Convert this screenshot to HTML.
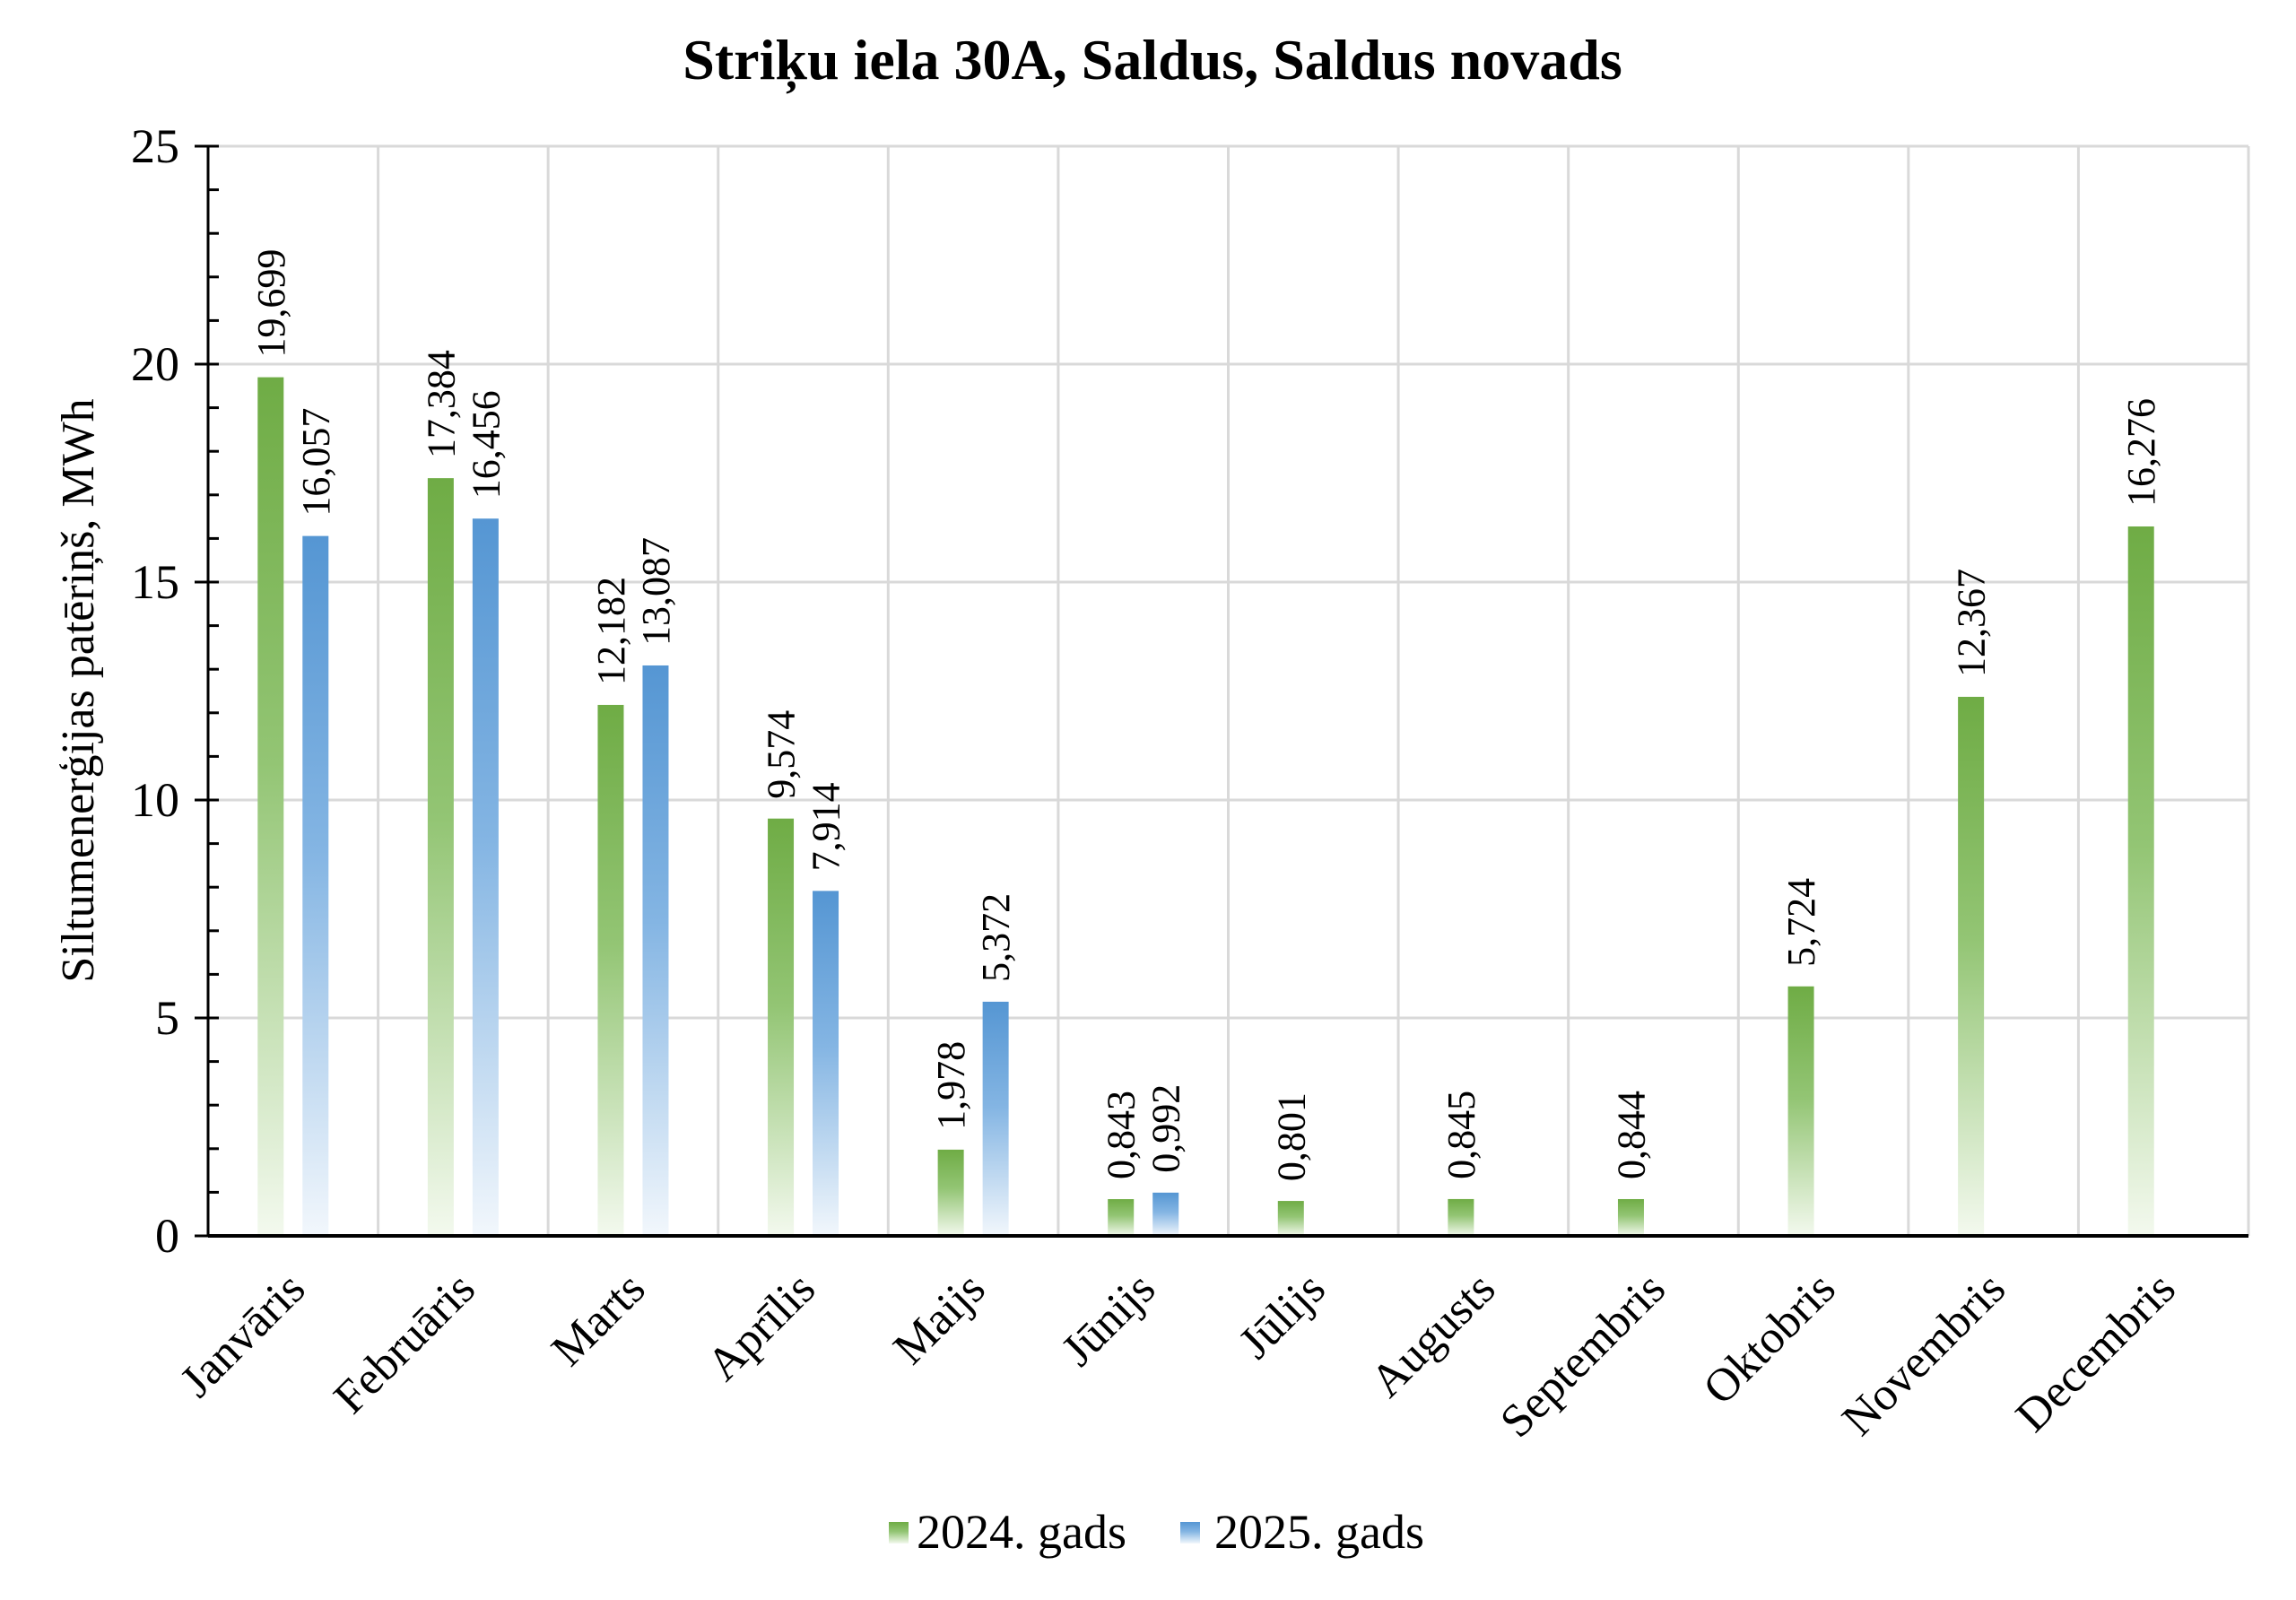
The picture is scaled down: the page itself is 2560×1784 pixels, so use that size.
<!DOCTYPE html>
<html><head><meta charset="utf-8"><style>
body{margin:0;background:#fff;}
svg{display:block;font-family:"Liberation Serif",serif;}
</style></head><body>
<svg id="chart" width="2560" height="1784" viewBox="0 0 2560 1784">
<defs>
<linearGradient id="gGreen" x1="0" y1="0" x2="0" y2="1"><stop offset="0" stop-color="#6fac45"/><stop offset="0.45" stop-color="#93c574"/><stop offset="1" stop-color="#f3f9ee"/></linearGradient>
<linearGradient id="gBlue" x1="0" y1="0" x2="0" y2="1"><stop offset="0" stop-color="#5596d3"/><stop offset="0.45" stop-color="#84b5e3"/><stop offset="1" stop-color="#f2f7fc"/></linearGradient>
</defs>
<text x="1285" y="88" text-anchor="middle" font-size="64" font-weight="bold">Striķu iela 30A, Saldus, Saldus novads</text>
<text transform="translate(104,770) rotate(-90)" text-anchor="middle" font-size="52">Siltumenerģijas patēriņš, MWh</text>
<g id="grid"></g><g id="bars"></g><g id="axes"></g>
<g>
<rect x="991" y="1697" width="22" height="24" fill="url(#gGreen)"/>
<text x="1022" y="1726" font-size="54">2024. gads</text>
<rect x="1316" y="1697" width="22" height="24" fill="url(#gBlue)"/>
<text x="1354" y="1726" font-size="54">2025. gads</text>
</g>
</svg>
<script>
const categories=["Janvāris","Februāris","Marts","Aprīlis","Maijs","Jūnijs","Jūlijs","Augusts","Septembris","Oktobris","Novembris","Decembris"];
const series2024=[19.699,17.384,12.182,9.574,1.978,0.843,0.801,0.845,0.844,5.724,12.367,16.276];
const series2025=[16.057,16.456,13.087,7.914,5.372,0.992,null,null,null,null,null,null];
const yTicks=[0,5,10,15,20,25];
const NS="http://www.w3.org/2000/svg";
const X0=232,X1=2507,Y0=1378,Y1=163,YMAX=25;
const band=(X1-X0)/categories.length;
const y=v=>Y0-(v/YMAX)*(Y0-Y1);
const xc=i=>X0+band*(i+0.5);
function mk(tag,attrs,parent){const e=document.createElementNS(NS,tag);for(const k in attrs)e.setAttribute(k,attrs[k]);parent.appendChild(e);return e;}
const grid=document.getElementById('grid'),bars=document.getElementById('bars'),axes=document.getElementById('axes');
yTicks.forEach(t=>{if(t>0){const l=mk('line',{x1:X0,x2:X1,y1:y(t),y2:y(t),stroke:'#d9d9d9','stroke-width':3},grid);

}
const tx=mk('text',{x:X0-32,y:y(t)+18,'text-anchor':'end','font-size':54},axes);tx.textContent=t;


mk('line',{x1:X0-15,x2:X0+12,y1:y(t),y2:y(t),stroke:'#000','stroke-width':3},axes);});
for(let v=1;v<YMAX;v++){if(v%5)mk('line',{x1:X0,x2:X0+12,y1:y(v),y2:y(v),stroke:'#000','stroke-width':3},axes);}
for(let i=1;i<=categories.length;i++){const gx=X0+band*i;const l=mk('line',{x1:gx,x2:gx,y1:Y1,y2:Y0,stroke:'#d9d9d9','stroke-width':3},grid);

}
mk('line',{x1:X0,x2:X1,y1:Y0,y2:Y0,stroke:'#000','stroke-width':4},axes);
mk('line',{x1:X0,x2:X0,y1:Y1,y2:Y0,stroke:'#000','stroke-width':3},axes);
const fmt=v=>v.toFixed(3).replace('.',',');
function drawBar(v,i,off,fill,name){if(v==null)return;const cx=xc(i)+off,w=29;
const r=mk('rect',{x:cx-w/2,y:y(v),width:w,height:Y0-y(v),fill:fill},bars);


const t=mk('text',{transform:`translate(${cx+15},${y(v)-22}) rotate(-90)`,'font-size':44},bars);t.textContent=fmt(v);

}
categories.forEach((c,i)=>{drawBar(series2024[i],i,-25,'url(#gGreen)','bar-2024');drawBar(series2025[i],i,25,'url(#gBlue)','bar-2025');
const t=mk('text',{transform:`translate(${xc(i)+16},${Y0+62}) rotate(-45)`,'text-anchor':'end','font-size':52},axes);t.textContent=c;

});
</script>
</body></html>
